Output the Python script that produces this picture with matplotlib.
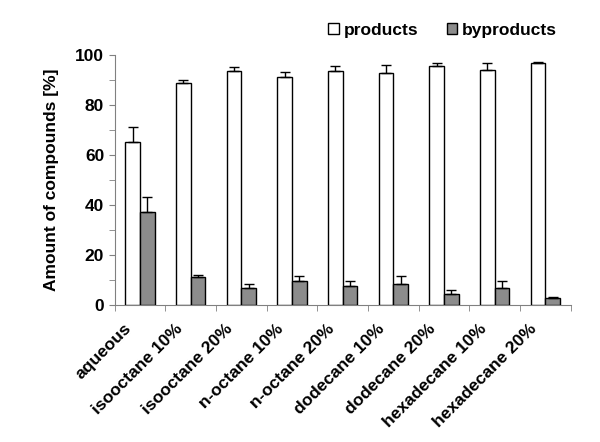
import matplotlib
matplotlib.use("Agg")
import matplotlib.pyplot as plt
import matplotlib.transforms as mtransforms
import numpy as np
from matplotlib.patches import Patch

plt.rcParams['font.family'] = ['Liberation Sans', 'DejaVu Sans']
plt.rcParams['font.weight'] = 'bold'

categories = ["aqueous", "isooctane 10%", "isooctane 20%", "n-octane 10%", "n-octane 20%",
              "dodecane 10%", "dodecane 20%", "hexadecane 10%", "hexadecane 20%"]
products = [65.3, 88.9, 93.6, 91.1, 93.6, 92.8, 95.6, 93.9, 96.9]
products_err = [5.8, 1.0, 1.6, 2.0, 2.0, 3.3, 1.3, 2.9, 0.3]
byproducts = [37.1, 11.3, 6.7, 9.7, 7.5, 8.3, 4.5, 6.7, 2.7]
byproducts_err = [6.2, 0.8, 1.6, 2.0, 2.2, 3.4, 1.4, 3.0, 0.3]

fig = plt.figure(figsize=(6.0, 4.42), dpi=100)
ax = fig.add_axes([0.191, 0.31, 0.76, 0.566])

x = np.arange(len(categories))
w = 0.29
ax.bar(x - w/2, products, w, color='white', edgecolor='black', linewidth=1.0,
       yerr=[np.zeros(len(x)), products_err], capsize=3.5,
       error_kw=dict(ecolor='black', elinewidth=1.0, capthick=1.0), zorder=3)
ax.bar(x + w/2, byproducts, w, color='#8c8c8c', edgecolor='black', linewidth=1.0,
       yerr=[np.zeros(len(x)), byproducts_err], capsize=3.5,
       error_kw=dict(ecolor='black', elinewidth=1.0, capthick=1.0), zorder=3)

ax.set_xlim(-0.5, len(categories) - 0.5)
ax.set_ylim(0, 100)
ax.set_yticks(np.arange(0, 101, 20))
ax.set_yticks(np.arange(0, 101, 10), minor=True)
ax.tick_params(axis='y', which='both', direction='out', length=4, color='#808080', labelsize=12.5)
ax.set_xticks(np.arange(-0.5, len(categories), 1.0), minor=True)
ax.set_xticks(x)
ax.set_xticklabels(categories, rotation=45, ha='right', va='top', rotation_mode='anchor', fontsize=12.5)
ax.tick_params(axis='x', which='major', length=0, pad=10)
ax.tick_params(axis='x', which='minor', direction='out', length=4, color='#808080')
offset = mtransforms.ScaledTranslation(-16/100, -2/100, fig.dpi_scale_trans)
for lab in ax.get_xticklabels():
    lab.set_transform(lab.get_transform() + offset)

for s in ['top', 'right']:
    ax.spines[s].set_visible(False)
for s in ['left', 'bottom']:
    ax.spines[s].set_color('#808080')

ax.set_ylabel("Amount of compounds [%]", fontsize=12.5, fontweight='bold', labelpad=12)

handles = [Patch(facecolor='white', edgecolor='black', label='products'),
           Patch(facecolor='#8c8c8c', edgecolor='black', label='byproducts')]
fig.legend(handles=handles, loc='center', bbox_to_anchor=(0.738, 0.932), ncol=2,
           frameon=False, fontsize=12.5, handlelength=0.6, handleheight=0.6,
           handletextpad=0.3, columnspacing=1.6)

fig.savefig("out.png", dpi=100)
